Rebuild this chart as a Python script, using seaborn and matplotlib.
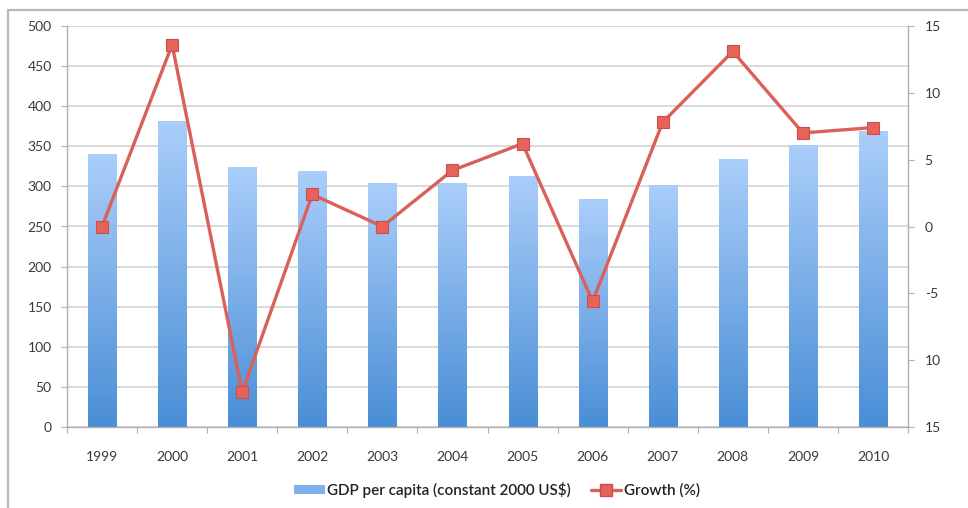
import numpy as np
import matplotlib
matplotlib.use("Agg")
import matplotlib.pyplot as plt
import seaborn as sns
from matplotlib.patches import Patch, Rectangle
from matplotlib.lines import Line2D
from matplotlib.colors import LinearSegmentedColormap

# Data
years = ["1999", "2000", "2001", "2002", "2003", "2004",
         "2005", "2006", "2007", "2008", "2009", "2010"]
gdp_per_capita = [340, 381, 324, 319, 304, 304, 312, 284, 301, 334, 351, 369]
growth_pct = [0.0, 13.6, -12.4, 2.4, 0.0, 4.2, 6.2, -5.6, 7.8, 13.1, 7.0, 7.4]
left_ticks = [0, 50, 100, 150, 200, 250, 300, 350, 400, 450, 500]
right_ticks = [15, 10, 5, 0, -5, -10, -15]
right_tick_labels = ["15", "10", "5", "0", "-5", "10", "15"]

sns.set_theme(style="white")
plt.rcParams["font.family"] = ["Lato", "DejaVu Sans"]

W, H = 968, 508
fig = plt.figure(figsize=(W / 100, H / 100), dpi=100)
fig.patch.set_facecolor("white")

# Chart-area border
fig.patches.append(Rectangle((8 / W, -0.2), 1.2, (H - 10) / H + 0.2,
                             transform=fig.transFigure, fill=False,
                             edgecolor="#b8b8b8", linewidth=1.6, zorder=0))

left, right, top, bottom = 67, 908, 26, 427
ax = fig.add_axes([left / W, (H - bottom) / H, (right - left) / W, (bottom - top) / H])

sns.barplot(x=years, y=gdp_per_capita, ax=ax, width=0.4, color="#6aa4e8",
            saturation=1, zorder=2)

# Vertical gradient on each bar
cmap = LinearSegmentedColormap.from_list("barblue", ["#4a8ed6", "#aacefa"])
grad = np.linspace(0, 1, 256).reshape(-1, 1)
for p in list(ax.patches):
    x0, w, h = p.get_x(), p.get_width(), p.get_height()
    p.set_alpha(0)
    ax.imshow(grad, cmap=cmap, origin="lower", aspect="auto",
              extent=[x0, x0 + w, 0, h], zorder=2.1)
ax.set_xlim(-0.5, len(years) - 0.5)
ax.set_ylim(0, 500)
ax.set_aspect("auto")

# Grid and axes styling
ax.set_yticks(left_ticks)
ax.yaxis.grid(True, color="#cfcfcf", linewidth=1.1)
ax.set_axisbelow(True)
for s in ["top", "right"]:
    ax.spines[s].set_visible(False)
for s in ["left", "bottom"]:
    ax.spines[s].set_color("#b0b0b0")
    ax.spines[s].set_linewidth(1.0)
ax.set_xlabel("")
ax.set_ylabel("")
ax.tick_params(axis="y", which="major", direction="out", length=4, width=0.8,
               color="#b0b0b0", pad=7, labelsize=10, labelcolor="#3a3a3a", left=True)
ax.set_xticks(np.arange(len(years)))
ax.set_xticklabels(years)
ax.set_xticks(np.arange(-0.5, len(years)), minor=True)
ax.tick_params(axis="x", which="major", length=0, pad=17, labelsize=10,
               labelcolor="#3a3a3a")
ax.tick_params(axis="x", which="minor", direction="out", length=4, width=0.8,
               color="#b0b0b0", bottom=True)

# Growth line on secondary axis
ax2 = ax.twinx()
sns.lineplot(x=np.arange(len(years)), y=growth_pct, ax=ax2, color="#d9615a",
             linewidth=2.4, marker="s", markersize=8,
             markerfacecolor="#e8625c", markeredgecolor="#c9504a",
             markeredgewidth=0.8, zorder=5)
ax2.set_ylim(-15, 15)
ax2.set_xlim(-0.5, len(years) - 0.5)
ax2.set_yticks(right_ticks)
ax2.set_yticklabels(right_tick_labels)
for s in ["top", "left", "bottom"]:
    ax2.spines[s].set_visible(False)
ax2.spines["right"].set_color("#b0b0b0")
ax2.spines["right"].set_linewidth(1.0)
ax2.tick_params(axis="y", direction="out", length=4, width=0.8, color="#b0b0b0",
                pad=8, labelsize=10, labelcolor="#3a3a3a", right=True)
ax2.grid(False)
ax2.set_ylabel("")

# Legend
handles = [
    Patch(facecolor="#7eb2ee", edgecolor="none"),
    Line2D([0], [0], color="#d9615a", linewidth=2.4, marker="s", markersize=8,
           markerfacecolor="#e8625c", markeredgecolor="#c9504a"),
]
fig.legend(handles, ["GDP per capita (constant 2000 US$)", "Growth (%)"],
           loc="center", bbox_to_anchor=(497 / W, 1 - 490 / H), ncol=2,
           frameon=False, fontsize=11, handlelength=2.0, handleheight=0.6,
           columnspacing=1.3, handletextpad=0.15, labelcolor="#222222",
           prop={"weight": "semibold", "size": 11})

fig.savefig("out.png", dpi=100, facecolor="white")
